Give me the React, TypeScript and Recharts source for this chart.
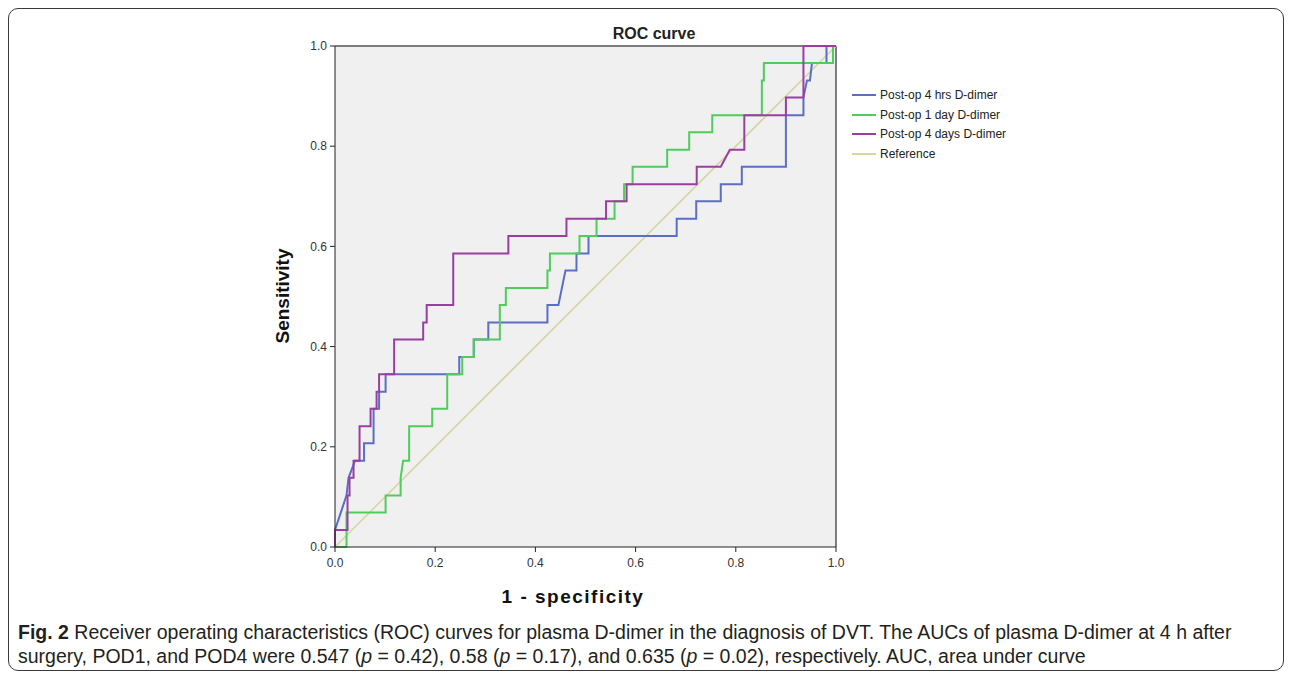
import React from "react";
import { LineChart, Line, XAxis, YAxis, CartesianGrid, ReferenceLine } from "recharts";

// ---- Data (1 - specificity, sensitivity) ----
const hrs4Fpr = [0, 0, 0.023, 0.027, 0.04, 0.058, 0.058, 0.077, 0.077, 0.088, 0.088, 0.101, 0.101, 0.248, 0.248, 0.277, 0.277, 0.306, 0.306, 0.424, 0.424, 0.446, 0.46, 0.482, 0.482, 0.506, 0.506, 0.682, 0.682, 0.721, 0.721, 0.77, 0.77, 0.812, 0.812, 0.9, 0.9, 0.935, 0.935, 0.942, 0.948, 0.952, 0.981, 0.981, 1];
const hrs4Tpr = [0, 0.034, 0.103, 0.138, 0.172, 0.172, 0.207, 0.207, 0.276, 0.276, 0.31, 0.31, 0.345, 0.345, 0.379, 0.379, 0.414, 0.414, 0.448, 0.448, 0.483, 0.483, 0.552, 0.552, 0.586, 0.586, 0.621, 0.621, 0.655, 0.655, 0.69, 0.69, 0.724, 0.724, 0.759, 0.759, 0.862, 0.862, 0.897, 0.931, 0.931, 0.966, 0.966, 1, 1];

const day1Fpr = [0, 0.023, 0.023, 0.101, 0.101, 0.131, 0.131, 0.136, 0.148, 0.148, 0.194, 0.194, 0.224, 0.224, 0.254, 0.254, 0.277, 0.277, 0.329, 0.329, 0.341, 0.341, 0.424, 0.424, 0.429, 0.429, 0.488, 0.488, 0.522, 0.522, 0.558, 0.558, 0.577, 0.577, 0.594, 0.594, 0.663, 0.663, 0.707, 0.707, 0.753, 0.753, 0.852, 0.852, 0.856, 0.856, 0.994, 0.994, 1];
const day1Tpr = [0, 0, 0.069, 0.069, 0.103, 0.103, 0.138, 0.172, 0.172, 0.241, 0.241, 0.276, 0.276, 0.345, 0.345, 0.379, 0.379, 0.414, 0.414, 0.483, 0.483, 0.517, 0.517, 0.552, 0.552, 0.586, 0.586, 0.621, 0.621, 0.655, 0.655, 0.69, 0.69, 0.724, 0.724, 0.759, 0.759, 0.793, 0.793, 0.828, 0.828, 0.862, 0.862, 0.931, 0.931, 0.966, 0.966, 1, 1];

const days4Fpr = [0, 0, 0.025, 0.025, 0.029, 0.029, 0.037, 0.037, 0.049, 0.049, 0.071, 0.071, 0.083, 0.083, 0.088, 0.088, 0.118, 0.118, 0.176, 0.176, 0.183, 0.183, 0.236, 0.236, 0.346, 0.346, 0.462, 0.462, 0.541, 0.541, 0.582, 0.582, 0.722, 0.722, 0.77, 0.788, 0.817, 0.817, 0.9, 0.9, 0.935, 0.935, 1];
const days4Tpr = [0, 0.034, 0.034, 0.103, 0.103, 0.138, 0.138, 0.172, 0.172, 0.241, 0.241, 0.276, 0.276, 0.31, 0.31, 0.345, 0.345, 0.414, 0.414, 0.448, 0.448, 0.483, 0.483, 0.586, 0.586, 0.621, 0.621, 0.655, 0.655, 0.69, 0.69, 0.724, 0.724, 0.759, 0.759, 0.793, 0.793, 0.862, 0.862, 0.897, 0.897, 1, 1];

const refFpr = [0, 1];
const refTpr = [0, 1];

const axisTicks = [0, 0.2, 0.4, 0.6, 0.8, 1.0];
const seriesNames = ["Post-op 4 hrs D-dimer", "Post-op 1 day D-dimer", "Post-op 4 days D-dimer", "Reference"];
const seriesColors = ["#5a6ec6", "#50cc5a", "#9a3fa0", "#d8d5a3"];

const toPoints = (xs: number[], ys: number[]) => xs.map((x, i) => ({ x, y: ys[i] }));

const series = [
  toPoints(hrs4Fpr, hrs4Tpr),
  toPoints(day1Fpr, day1Tpr),
  toPoints(days4Fpr, days4Tpr),
  toPoints(refFpr, refTpr),
];

const drawOrder = [3, 0, 1, 2];

const fmt = (v: number) => v.toFixed(1);

export default function App() {
  const W = 900;
  const H = 620;
  const yAxisW = 40;
  const xAxisH = 30;
  const plotLeft = 326;
  const plotTop = 37;
  const plotSize = 501;
  return (
    <div
      style={{
        position: "relative",
        width: 1274,
        height: 661,
        border: "1px solid #3a3a3a",
        borderRadius: 10,
        background: "#fff",
        fontFamily: "'Liberation Sans', Arial, sans-serif",
      }}
    >
      <div style={{ position: "absolute", left: 0, top: 0 }}>
        <LineChart
          width={W}
          height={H}
          margin={{
            top: plotTop,
            left: plotLeft - yAxisW,
            right: W - plotLeft - plotSize,
            bottom: H - plotTop - plotSize - xAxisH,
          }}
        >
          <CartesianGrid horizontal={false} vertical={false} fill="#f0f0f0" />
          <XAxis
            dataKey="x"
            type="number"
            domain={[0, 1]}
            ticks={axisTicks}
            tickFormatter={fmt}
            height={xAxisH}
            stroke="#222"
            tickSize={5}
            tickMargin={6}
            tick={{ fill: "#333", fontSize: 12, fontFamily: "'Liberation Sans', Arial, sans-serif" }}
            allowDuplicatedCategory={false}
          />
          <YAxis
            dataKey="y"
            type="number"
            domain={[0, 1]}
            ticks={axisTicks}
            tickFormatter={fmt}
            width={yAxisW}
            stroke="#222"
            tickSize={5}
            tickMargin={3}
            tick={{ fill: "#333", fontSize: 12, fontFamily: "'Liberation Sans', Arial, sans-serif" }}
          />
          <ReferenceLine y={1} stroke="#555" strokeWidth={1.5} />
          <ReferenceLine x={1} stroke="#555" strokeWidth={1.5} />
          {drawOrder.map((i) => (
            <Line
              key={seriesNames[i]}
              data={series[i]}
              dataKey="y"
              type="linear"
              stroke={seriesColors[i]}
              strokeWidth={i === 3 ? 1.6 : 2}
              dot={false}
              activeDot={false}
              isAnimationActive={false}
              name={seriesNames[i]}
            />
          ))}
        </LineChart>
      </div>

      {/* Title */}
      <div
        style={{
          position: "absolute",
          left: 545,
          width: 200,
          top: 16,
          textAlign: "center",
          fontWeight: "bold",
          fontSize: 16,
          color: "#222",
        }}
      >
        ROC curve
      </div>

      {/* Y axis title */}
      <div
        style={{
          position: "absolute",
          left: 274 - 100,
          top: 287 - 12,
          width: 200,
          height: 24,
          lineHeight: "24px",
          textAlign: "center",
          transform: "rotate(-90deg)",
          fontWeight: "bold",
          fontSize: 19,
          color: "#111",
        }}
      >
        Sensitivity
      </div>

      {/* X axis title */}
      <div
        style={{
          position: "absolute",
          left: 564 - 150,
          width: 300,
          top: 577,
          textAlign: "center",
          fontWeight: "bold",
          fontSize: 19,
          letterSpacing: 1.5,
          color: "#111",
        }}
      >
        1 - specificity
      </div>

      {/* Legend */}
      <div style={{ position: "absolute", left: 843, top: 76, fontSize: 12, color: "#222" }}>
        {seriesNames.map((n, i) => (
          <div key={n} style={{ display: "flex", alignItems: "center", height: 19.7, whiteSpace: "nowrap" }}>
            <svg width={24} height={4} style={{ marginRight: 4 }}>
              <line x1={0} y1={2} x2={24} y2={2} stroke={seriesColors[i]} strokeWidth={2} />
            </svg>
            <span>{n}</span>
          </div>
        ))}
      </div>

      {/* Caption */}
      <div
        style={{
          position: "absolute",
          left: 9,
          top: 611,
          fontSize: 19.5,
          lineHeight: "24px",
          color: "#231f20",
          whiteSpace: "nowrap",
          fontFamily: "'Liberation Sans Narrow', 'Liberation Sans', Arial, sans-serif",
        }}
      >
        <div>
          <b>Fig. 2</b> Receiver operating characteristics (ROC) curves for plasma D-dimer in the diagnosis of DVT. The AUCs of plasma D-dimer at 4 h after
        </div>
        <div>
          surgery, POD1, and POD4 were 0.547 (<i>p</i> = 0.42), 0.58 (<i>p</i> = 0.17), and 0.635 (<i>p</i> = 0.02), respectively. AUC, area under curve
        </div>
      </div>
    </div>
  );
}
